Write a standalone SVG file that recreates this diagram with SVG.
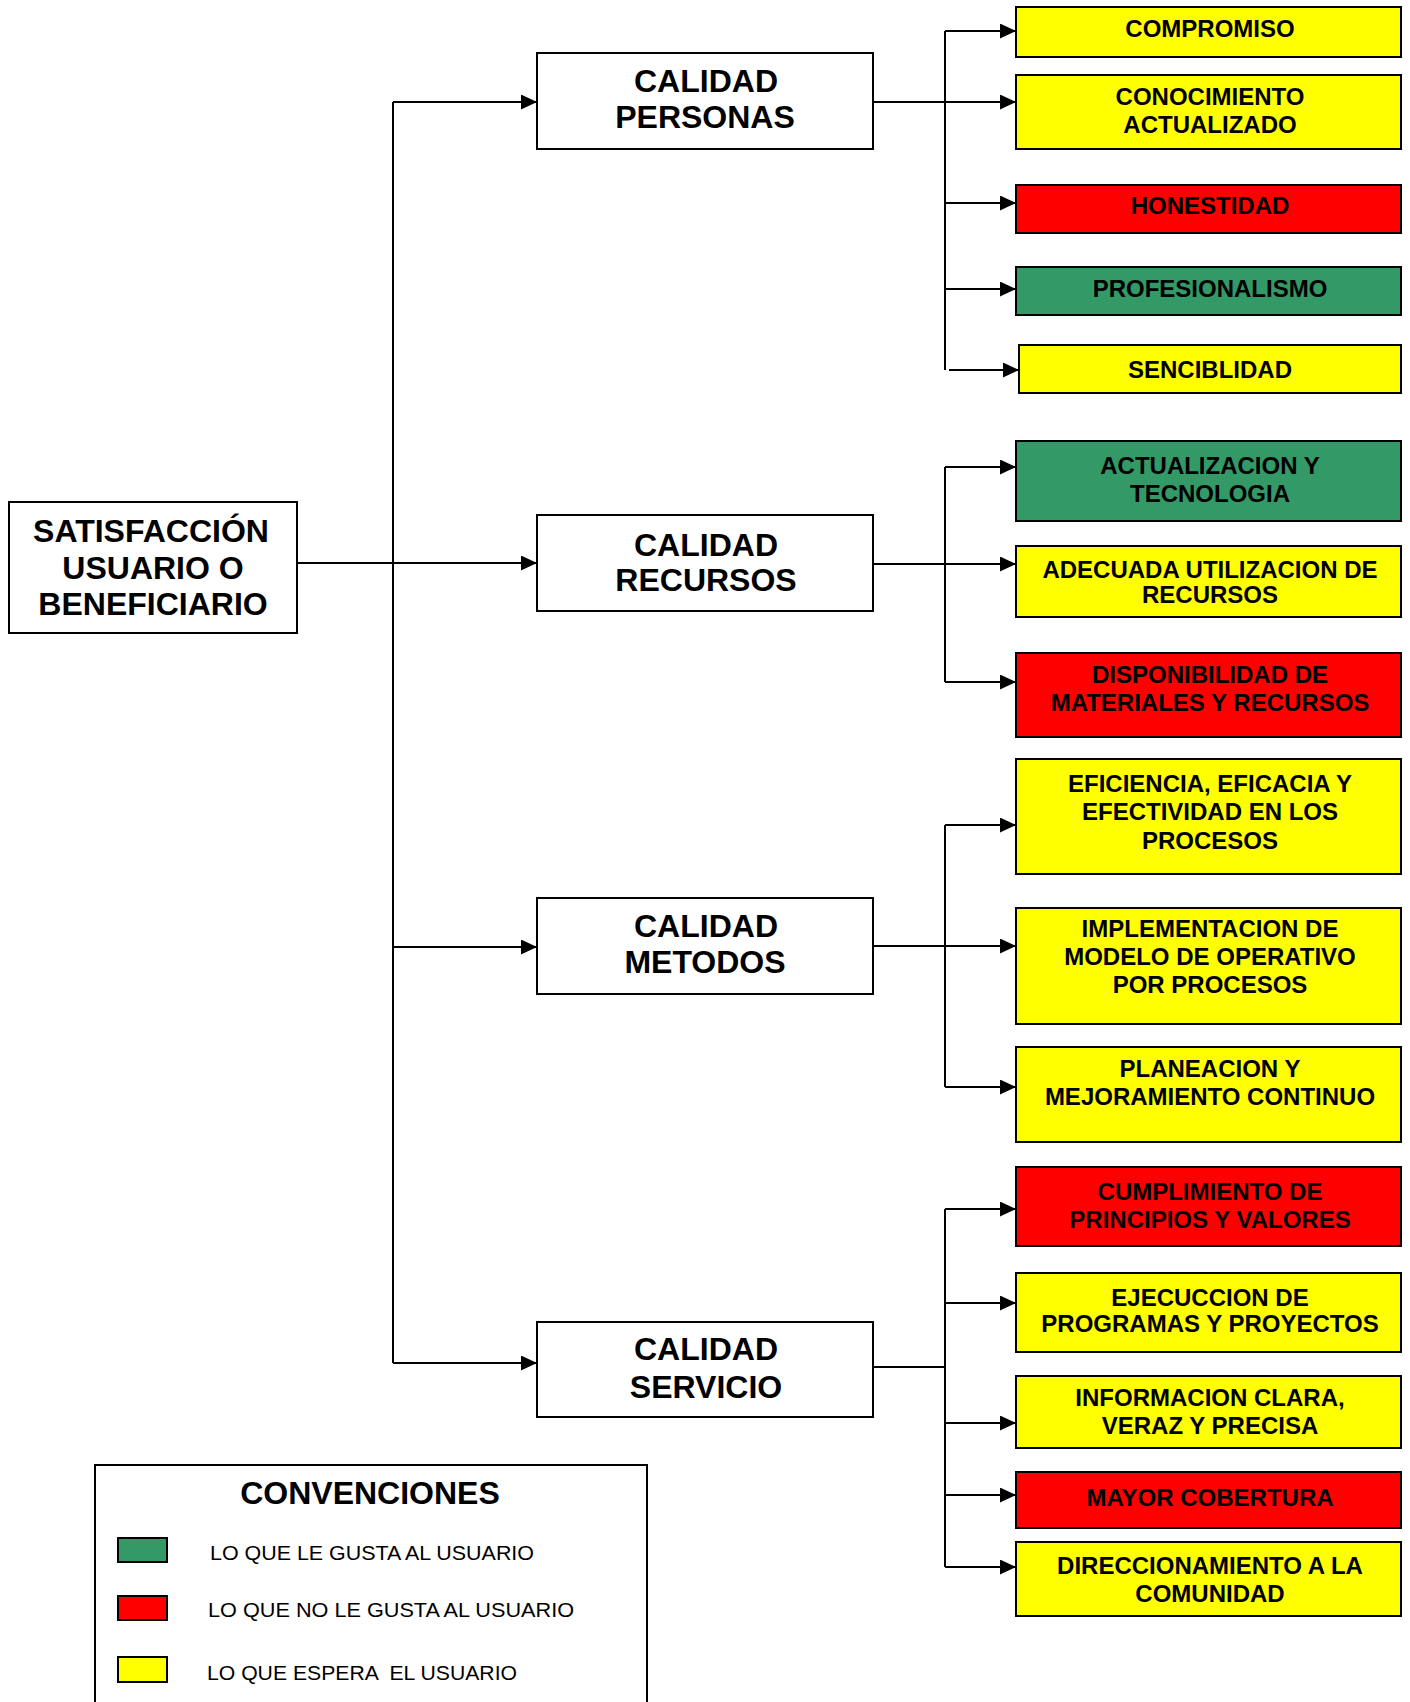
<svg xmlns="http://www.w3.org/2000/svg" width="1410" height="1702" viewBox="0 0 1410 1702">
<defs>
<marker id="arr" markerUnits="userSpaceOnUse" markerWidth="17" markerHeight="15" refX="16" refY="7.5" orient="auto">
<path d="M0,0 L16,7.5 L0,15 z" fill="#000"/>
</marker>
<style>
.box{stroke:#000;stroke-width:2}
.w{fill:#fff}
.y{fill:#ffff00}
.r{fill:#ff0000}
.g{fill:#339966}
.mt{font-family:"Liberation Sans",Arial,sans-serif;font-weight:bold;font-size:32px;text-anchor:middle;fill:#000}
.ct{font-family:"Liberation Sans",Arial,sans-serif;font-weight:bold;font-size:24px;text-anchor:middle;fill:#000}
.lt{font-family:"Liberation Sans",Arial,sans-serif;font-size:21px;fill:#000}
.ln{stroke:#000;stroke-width:2;fill:none}
.a{marker-end:url(#arr)}
</style>
</defs>
<rect width="1410" height="1702" fill="#fff"/>

<g id="connectors">
<path class="ln" d="M297,563 H393"/>
<path class="ln" d="M393,102 V1363"/>
<path class="ln a" d="M393,102 H537"/>
<path class="ln a" d="M393,563 H537"/>
<path class="ln a" d="M393,947 H537"/>
<path class="ln a" d="M393,1363 H537"/>

<path class="ln" d="M945,31 V370"/>
<path class="ln a" d="M873,102 H1016"/>
<path class="ln a" d="M945,31 H1016"/>
<path class="ln a" d="M945,203 H1016"/>
<path class="ln a" d="M945,289 H1016"/>
<path class="ln a" d="M949,370 H1019"/>

<path class="ln" d="M945,467 V682"/>
<path class="ln a" d="M873,564 H1016"/>
<path class="ln a" d="M945,467 H1016"/>
<path class="ln a" d="M945,682 H1016"/>

<path class="ln" d="M945,825 V1087"/>
<path class="ln a" d="M873,946 H1016"/>
<path class="ln a" d="M945,825 H1016"/>
<path class="ln a" d="M945,1087 H1016"/>

<path class="ln" d="M945,1209 V1567"/>
<path class="ln" d="M873,1367 H945"/>
<path class="ln a" d="M945,1209 H1016"/>
<path class="ln a" d="M945,1303 H1016"/>
<path class="ln a" d="M945,1423 H1016"/>
<path class="ln a" d="M945,1495 H1016"/>
<path class="ln a" d="M945,1567 H1016"/>
</g>

<g id="satisfaccion">
<rect class="box w" x="9" y="502" width="288" height="131"/>
<text class="mt" x="151" y="542">SATISFACCIÓN</text>
<text class="mt" x="153" y="579">USUARIO O</text>
<text class="mt" x="153" y="615">BENEFICIARIO</text>
</g>

<g id="calidad-personas">
<rect class="box w" x="537" y="53" width="336" height="96"/>
<text class="mt" x="706" y="92">CALIDAD</text>
<text class="mt" x="705" y="128">PERSONAS</text>
</g>
<g id="calidad-recursos">
<rect class="box w" x="537" y="515" width="336" height="96"/>
<text class="mt" x="706" y="556">CALIDAD</text>
<text class="mt" x="706" y="591">RECURSOS</text>
</g>
<g id="calidad-metodos">
<rect class="box w" x="537" y="898" width="336" height="96"/>
<text class="mt" x="706" y="937">CALIDAD</text>
<text class="mt" x="705" y="973">METODOS</text>
</g>
<g id="calidad-servicio">
<rect class="box w" x="537" y="1322" width="336" height="95"/>
<text class="mt" x="706" y="1360">CALIDAD</text>
<text class="mt" x="706" y="1398">SERVICIO</text>
</g>

<g id="compromiso">
<rect class="box y" x="1016" y="7" width="385" height="50"/>
<text class="ct" x="1210" y="37">COMPROMISO</text>
</g>
<g id="conocimiento">
<rect class="box y" x="1016" y="75" width="385" height="74"/>
<text class="ct" x="1210" y="105">CONOCIMIENTO</text>
<text class="ct" x="1210" y="133">ACTUALIZADO</text>
</g>
<g id="honestidad">
<rect class="box r" x="1016" y="185" width="385" height="48"/>
<text class="ct" x="1210" y="214">HONESTIDAD</text>
</g>
<g id="profesionalismo">
<rect class="box g" x="1016" y="267" width="385" height="48"/>
<text class="ct" x="1210" y="297">PROFESIONALISMO</text>
</g>
<g id="sencibilidad">
<rect class="box y" x="1019" y="345" width="382" height="48"/>
<text class="ct" x="1210" y="378">SENCIBLIDAD</text>
</g>

<g id="actualizacion">
<rect class="box g" x="1016" y="441" width="385" height="80"/>
<text class="ct" x="1210" y="474">ACTUALIZACION Y</text>
<text class="ct" x="1210" y="502">TECNOLOGIA</text>
</g>
<g id="adecuada">
<rect class="box y" x="1016" y="546" width="385" height="71"/>
<text class="ct" x="1210" y="578">ADECUADA UTILIZACION DE</text>
<text class="ct" x="1210" y="603">RECURSOS</text>
</g>
<g id="disponibilidad">
<rect class="box r" x="1016" y="653" width="385" height="84"/>
<text class="ct" x="1210" y="683">DISPONIBILIDAD DE</text>
<text class="ct" x="1210" y="711">MATERIALES Y RECURSOS</text>
</g>

<g id="eficiencia">
<rect class="box y" x="1016" y="759" width="385" height="115"/>
<text class="ct" x="1210" y="792">EFICIENCIA, EFICACIA Y</text>
<text class="ct" x="1210" y="820">EFECTIVIDAD EN LOS</text>
<text class="ct" x="1210" y="849">PROCESOS</text>
</g>
<g id="implementacion">
<rect class="box y" x="1016" y="908" width="385" height="116"/>
<text class="ct" x="1210" y="937">IMPLEMENTACION DE</text>
<text class="ct" x="1210" y="965">MODELO DE OPERATIVO</text>
<text class="ct" x="1210" y="993">POR PROCESOS</text>
</g>
<g id="planeacion">
<rect class="box y" x="1016" y="1047" width="385" height="95"/>
<text class="ct" x="1210" y="1077">PLANEACION Y</text>
<text class="ct" x="1210" y="1105">MEJORAMIENTO CONTINUO</text>
</g>

<g id="cumplimiento">
<rect class="box r" x="1016" y="1167" width="385" height="79"/>
<text class="ct" x="1210" y="1200">CUMPLIMIENTO DE</text>
<text class="ct" x="1210" y="1228">PRINCIPIOS Y VALORES</text>
</g>
<g id="ejecuccion">
<rect class="box y" x="1016" y="1273" width="385" height="79"/>
<text class="ct" x="1210" y="1306">EJECUCCION DE</text>
<text class="ct" x="1210" y="1332">PROGRAMAS Y PROYECTOS</text>
</g>
<g id="informacion">
<rect class="box y" x="1016" y="1376" width="385" height="72"/>
<text class="ct" x="1210" y="1406">INFORMACION CLARA,</text>
<text class="ct" x="1210" y="1434">VERAZ Y PRECISA</text>
</g>
<g id="mayor-cobertura">
<rect class="box r" x="1016" y="1472" width="385" height="56"/>
<text class="ct" x="1210" y="1506">MAYOR COBERTURA</text>
</g>
<g id="direccionamiento">
<rect class="box y" x="1016" y="1542" width="385" height="74"/>
<text class="ct" x="1210" y="1574">DIRECCIONAMIENTO A LA</text>
<text class="ct" x="1210" y="1602">COMUNIDAD</text>
</g>

<g id="convenciones">
<rect x="95" y="1465" width="552" height="260" fill="#fff" stroke="#000" stroke-width="2"/>
<text class="mt" x="370" y="1504">CONVENCIONES</text>
<rect class="box g" x="118" y="1538" width="49" height="24"/>
<text class="lt" x="210" y="1560" textLength="324" lengthAdjust="spacingAndGlyphs">LO QUE LE GUSTA AL USUARIO</text>
<rect class="box r" x="118" y="1596" width="49" height="24"/>
<text class="lt" x="208" y="1617" textLength="366" lengthAdjust="spacingAndGlyphs">LO QUE NO LE GUSTA AL USUARIO</text>
<rect class="box y" x="118" y="1657" width="49" height="25"/>
<text class="lt" x="207" y="1680" textLength="310" lengthAdjust="spacingAndGlyphs" xml:space="preserve">LO QUE ESPERA  EL USUARIO</text>
</g>
</svg>
